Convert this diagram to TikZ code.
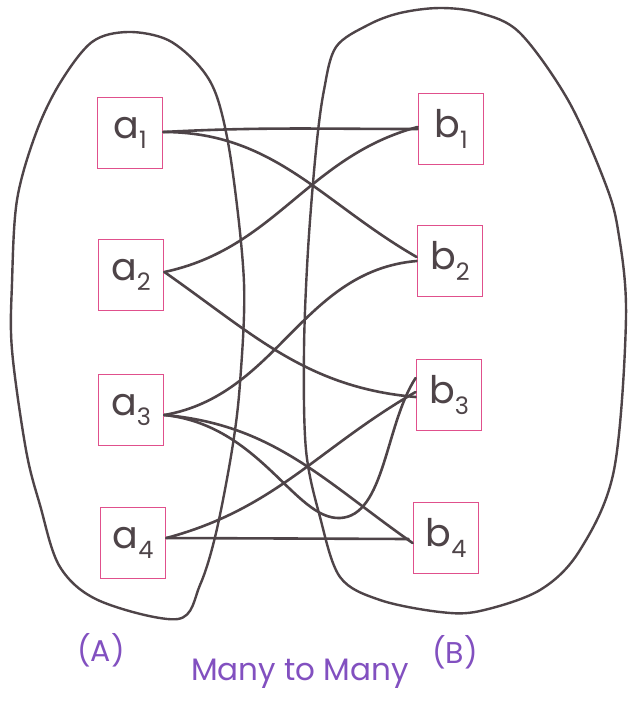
\documentclass[tikz,border=0pt]{standalone}
\usepackage{fontspec}
\setmainfont{Poppins}
\begin{document}
\begin{tikzpicture}[x=1pt,y=-1pt,
  box/.style={draw=boxpink,line width=1.8pt,minimum width=65pt,minimum height=71pt,inner sep=0pt,
    font=\fontsize{38}{38}\selectfont,text=inkgray},
  link/.style={draw=inkgray,line width=2.6pt,line cap=round},
  setline/.style={draw=inkgray,line width=2.4pt},
  lbl/.style={text=purp,font=\fontsize{30}{30}\selectfont}]
\definecolor{boxpink}{HTML}{E0508C}
\definecolor{inkgray}{HTML}{4E4448}
\definecolor{purp}{HTML}{8250C0}
\newcommand{\sub}[1]{\raisebox{-0.28em}{\fontsize{24}{24}\selectfont #1}}
\useasboundingbox (0,0) rectangle (627,704);
\fill[white] (0,0) rectangle (627,704);
% sets
\draw[setline] plot[smooth cycle,tension=0.55] coordinates {(128,32) (168,40) (200,67) (218,100) (232,167) (244,283) (240,383) (232,450) (216,533) (200,585) (178,619) (100,601) (60,567) (40,505) (26,450) (12,350) (12,283) (17,200) (36,133) (60,83) (92,42)};
\draw[setline] plot[smooth cycle,tension=0.55] coordinates {(400,13) (440,8) (480,13) (520,33) (568,100) (604,180) (618,230) (626,317) (614,470) (580,550) (540,590) (480,611) (440,612) (380,600) (340,577) (320,517) (306,450) (304,350) (308,250) (316,150) (324,90) (336,47) (368,25)};
% boxes
\node[box] (a1) at (130,133) {a\sub{1}};
\node[box] (a2) at (131,275) {a\sub{2}};
\node[box] (a3) at (131,410) {a\sub{3}};
\node[box] (a4) at (133,543) {a\sub{4}};
\node[box] (b1) at (451,129) {b\sub{1}};
\node[box] (b2) at (450,261) {b\sub{2}};
\node[box] (b3) at (449,395) {b\sub{3}};
\node[box] (b4) at (446,538) {b\sub{4}};
% connectors
\draw[link] ([yshift=1pt]a1.east) to[out=3,in=180] (b1.west);
\draw[link] ([yshift=1pt]a1.east) to[out=0,in=150] ([yshift=4pt]b2.west);
\draw[link] ([yshift=3pt]a2.east) to[out=12,in=195] ([yshift=2pt]b1.west);
\draw[link] ([yshift=3pt]a2.east) to[out=-35,in=175] ([yshift=-2pt]b3.west);
\draw[link] ([yshift=-5pt]a3.east) to[out=10,in=185] (b2.west);
\draw[link] ([yshift=-5pt]a3.east) to[out=-5,in=145] ([yshift=-5pt]b4.west);
\draw[link] ([yshift=-5pt]a3.east) .. controls (260,425) and (295,520) .. (340,518) .. controls (385,516) and (385,425) .. ([yshift=17pt]b3.west);
\draw[link] ([yshift=5pt]a4.east) to[out=15,in=210] ([yshift=3pt]b3.west);
\draw[link] ([yshift=5pt]a4.east) -- ([xshift=-4pt,yshift=-1pt]b4.west);
% labels
\node[lbl] (la) at (101,650) {(A)};
\node[lbl] (lb) at (455,652) {(B)};
\node[lbl,font=\fontsize{31}{31}\selectfont] (lm) at (300,674) {Many to Many};
\end{tikzpicture}
\end{document}
